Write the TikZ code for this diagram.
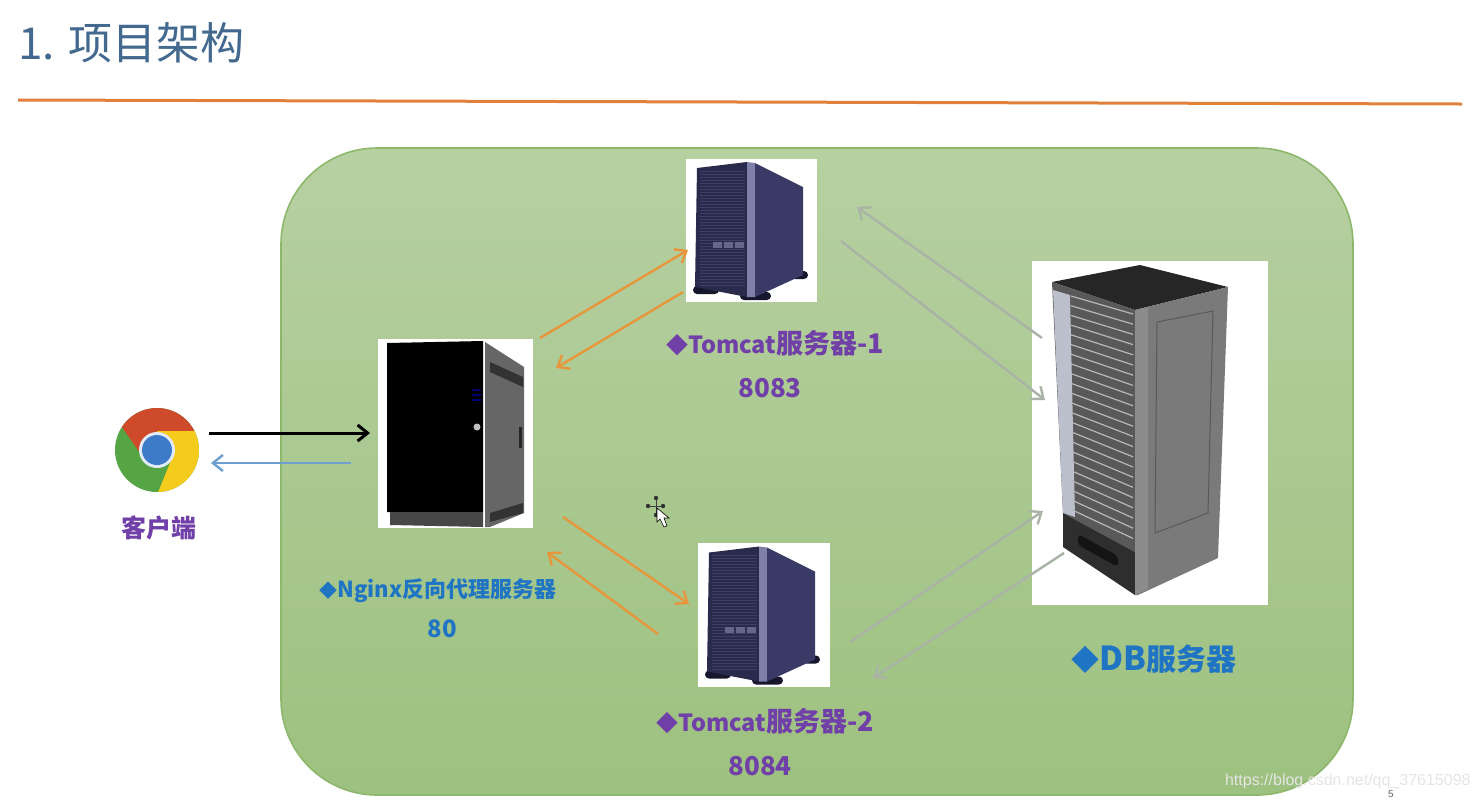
\documentclass[tikz,border=0pt]{standalone}
\usepackage{fontspec}
\setmainfont{Noto Sans CJK SC}
\newfontfamily\markfont{Liberation Sans}
\usetikzlibrary{arrows.meta}
\definecolor{panelTop}{HTML}{B7D0A2}
\definecolor{panelBottom}{HTML}{9DC17F}
\definecolor{panelEdge}{HTML}{8DB86C}
\definecolor{titleBlue}{HTML}{44698F}
\definecolor{ruleOrange}{HTML}{E0803A}
\definecolor{linkOrange}{HTML}{E8963C}
\definecolor{linkGray}{HTML}{A9B3A6}
\definecolor{linkBlue}{HTML}{6F9FD0}
\definecolor{labelPurple}{HTML}{7040A8}
\definecolor{labelBlue}{HTML}{1F74C4}
\definecolor{chromeRed}{HTML}{CF4A2A}
\definecolor{chromeYellow}{HTML}{F5CC1C}
\definecolor{chromeGreen}{HTML}{55A544}
\definecolor{chromeBlue}{HTML}{3D7BC8}
\definecolor{rackStrip}{HTML}{BCC0CC}
\definecolor{towerFront}{HTML}{2A2A4C}
\definecolor{towerGrille}{HTML}{3E3E66}
\definecolor{towerSide}{HTML}{3A3A66}
\definecolor{towerEdge}{HTML}{7F80A8}
\definecolor{towerBay}{HTML}{66668A}
\definecolor{towerFoot}{HTML}{16162C}
\newcommand{\sized}[2]{{\fontsize{#1}{#1}\selectfont #2}}
\tikzset{
  whitebox/.style={fill=white,draw=none,inner sep=0pt},
  purplelabel/.style={text=labelPurple,font=\bfseries\fontsize{13.5}{16}\selectfont},
  bluelabel/.style={text=labelBlue,font=\bfseries\fontsize{11}{14}\selectfont},
  link/.style={->,>={Straight Barb[length=5pt,width=8pt]},line width=1.2pt},
  towerserver/.pic={
    \fill[towerFoot,rounded corners=2pt] (6,127) rectangle (32,135);
    \fill[towerFoot,rounded corners=2pt] (53,133) rectangle (84,141);
    \fill[towerFoot,rounded corners=2pt] (104,112) rectangle (121,120);
    \fill[towerFront] (10,9) -- (60,3) -- (60,138) -- (8,128) -- cycle;
    \foreach \y in {12,15,...,126}
      \draw[towerGrille,line width=0.5pt] (13,\y) -- (58,\y);
    \foreach \x in {26,37,48}
      \fill[towerBay] (\x,83) rectangle (\x+9,89);
    \fill[towerEdge] (60,3) -- (68,4) -- (68,138) -- (60,138) -- cycle;
    \fill[towerSide] (68,4) -- (116,28) -- (116,116) -- (68,138) -- cycle;
  }
}
\begin{document}
\begin{tikzpicture}[x=0.5pt,y=-0.5pt]
  \useasboundingbox (0,0) rectangle (1480,800);
  \fill[white] (0,0) rectangle (1480,800);
  % heading
  \node[anchor=west,inner sep=0pt,text=titleBlue,font=\fontsize{22}{26}\selectfont] (title) at (18,43) {1. 项目架构};
  \coordinate (ruleL) at (18,100);
  \coordinate (ruleR) at (1462,104);
  \draw[ruleOrange,line width=1.5pt] (ruleL) -- (ruleR);
  % panel
  \draw[panelEdge,line width=0.8pt,top color=panelTop,bottom color=panelBottom,rounded corners=48pt]
    (281,148) rectangle (1353,795);
  % boxes
  \node[whitebox,minimum width=77.5pt,minimum height=94.5pt] (nginx) at (455.5,433.5) {};
  \node[whitebox,minimum width=65.5pt,minimum height=71.5pt] (tomcata) at (751.5,230.5) {};
  \node[whitebox,minimum width=66pt,minimum height=72pt] (tomcatb) at (764,615) {};
  \node[whitebox,minimum width=118pt,minimum height=172pt] (db) at (1150,433) {};
  \node[circle,inner sep=0pt,minimum size=42pt] (client) at (157,450) {};
  % client icon
  \begin{scope}
    \clip (157,450) circle (42);
    \fill[chromeGreen] (100,400) rectangle (210,500);
    \fill[chromeRed] (157,431) -- (210,431) -- (210,420) -- (200,395) -- (110,395) -- (117,420) -- (140,453) -- cycle;
    \fill[chromeYellow] (157,431) -- (210,431) -- (210,500) -- (155,500) -- (172,458) -- cycle;
  \end{scope}
  \fill[white!85!chromeBlue] (157,450) circle (18);
  \fill[chromeBlue] (157,450) circle (15);
  % nginx tower
  \fill[black] (387,343) -- (483,341) -- (483,512) -- (387,512) -- cycle;
  \fill[black!72] (390,512) -- (483,512) -- (483,527) -- (390,525) -- cycle;
  \fill[black!60] (485,342) -- (524,367) -- (524,513) -- (490,527) -- (485,527) -- cycle;
  \fill[black!80] (490,362) -- (523,377) -- (523,387) -- (490,372) -- cycle;
  \fill[black!80] (490,513) -- (523,503) -- (523,513) -- (490,522) -- cycle;
  \fill[black!85] (519,427) rectangle (522,448);
  \fill[black!25] (477,427) circle (3.5);
  \foreach \y in {390,395,400}
    \draw[blue!45!black,line width=0.6pt] (472,\y) -- (481,\y);
  % tomcat towers
  \pic at (687,159) {towerserver};
  \pic at (699,543.5) {towerserver};
  % db rack
  \fill[black!85] (1052,282) -- (1140,265) -- (1228,287) -- (1135,310) -- cycle;
  \fill[black!65] (1052,282) -- (1135,310) -- (1135,552) -- (1063,513) -- cycle;
  \fill[rackStrip] (1053,290) -- (1070,295) -- (1075,517) -- (1063,513) -- cycle;
  \foreach \i in {0,...,22}
    \draw[black!28,line width=0.6pt]
      (1071,296+\i*9.7) -- (1133,314+\i*10.2);
  \fill[black!82] (1063,513) -- (1135,552) -- (1135,595) -- (1063,547) -- cycle;
  \fill[black!92,rounded corners=2pt] (1078,534) -- (1118,556) -- (1118,567) -- (1078,545) -- cycle;
  \fill[black!52] (1135,310) -- (1228,287) -- (1218,558) -- (1138,595) -- (1135,595) -- cycle;
  \fill[black!45] (1135,310) -- (1148,307) -- (1148,589) -- (1135,595) -- cycle;
  \draw[black!65,line width=0.5pt] (1157,322) -- (1213,311) -- (1208,513) -- (1155,533) -- cycle;
  % link ends
  \coordinate (nginxoutA) at (540,338);
  \coordinate (tomcataIn) at (688,250);
  \coordinate (tomcataOut) at (683,292);
  \coordinate (nginxinA) at (556,368);
  \coordinate (nginxoutB) at (563,517);
  \coordinate (tomcatbIn) at (689,604);
  \coordinate (tomcatbOut) at (658,634);
  \coordinate (nginxinB) at (547,552);
  \coordinate (dbOutA) at (1042,338);
  \coordinate (tomcataBack) at (857,207);
  \coordinate (tomcataDb) at (841,241);
  \coordinate (dbInA) at (1045,400);
  \coordinate (tomcatbDb) at (850,642);
  \coordinate (dbInB) at (1043,511);
  \coordinate (dbOutB) at (1064,553);
  \coordinate (tomcatbBack) at (873,678);
  \coordinate (clientOut) at (209,433);
  \coordinate (nginxinC) at (370,433);
  \coordinate (nginxoutC) at (351,463);
  \coordinate (clientIn) at (211,463);
  % links
  \begin{scope}[link,linkOrange]
    \draw (nginxoutA) to (tomcataIn);
    \draw (tomcataOut) to (nginxinA);
    \draw (nginxoutB) to (tomcatbIn);
    \draw (tomcatbOut) to (nginxinB);
  \end{scope}
  \begin{scope}[link,linkGray]
    \draw (dbOutA) to (tomcataBack);
    \draw (tomcataDb) to (dbInA);
    \draw (tomcatbDb) to (dbInB);
    \draw (dbOutB) to (tomcatbBack);
  \end{scope}
  \draw[link,black,line width=1.5pt] (clientOut) to (nginxinC);
  \draw[link,linkBlue] (nginxoutC) to (clientIn);
  % labels
  \node[purplelabel,font=\bfseries\fontsize{12.5}{15}\selectfont] (clientlabel) at (159,528) {客户端};
  \node[purplelabel] (tomcatalabel) at (775,343) {\sized{11}{◆}\sized{11.8}{Tomcat}服务器-1};
  \node[purplelabel,font=\bfseries\fontsize{13}{16}\selectfont] (tomcataport) at (770,388) {8083};
  \node[purplelabel] (tomcatblabel) at (765,721) {\sized{11}{◆}\sized{11.8}{Tomcat}服务器-2};
  \node[purplelabel,font=\bfseries\fontsize{13}{16}\selectfont] (tomcatbport) at (760,766) {8084};
  \node[bluelabel] (nginxlabel) at (438,591) {\sized{9}{◆}Nginx反向代理服务器};
  \node[bluelabel,font=\bfseries\fontsize{12}{15}\selectfont] (nginxport) at (442,629) {80};
  \node[bluelabel,font=\bfseries\fontsize{15}{19}\selectfont] (dblabel) at (1154,659) {\sized{14}{◆}\sized{16.5}{DB}服务器};
  % pointer
  \draw[black!75,line width=0.4pt] (656,498) -- (656,515) (648,506) -- (664,506);
  \foreach \dx/\dy in {0/-8,-8/0,0/9,7/0}
    \fill[black!80] (656+\dx,506+\dy) circle (2.2);
  \fill[white,draw=black,line width=0.3pt] (657,508) -- (657,522) -- (660,519) -- (664,527) -- (667,526) -- (664,518) -- (669,518) -- cycle;
  % page marks
  \node[anchor=east,inner sep=0pt,text=white!90!black,font=\markfont\fontsize{8}{10}\selectfont] (watermark) at (1471,781) {https://blog.csdn.net/qq\_37615098};
  \node[inner sep=0pt,text=black!60,font=\markfont\fontsize{5}{6}\selectfont] (pagenum) at (1391,794) {5};
\end{tikzpicture}
\end{document}
